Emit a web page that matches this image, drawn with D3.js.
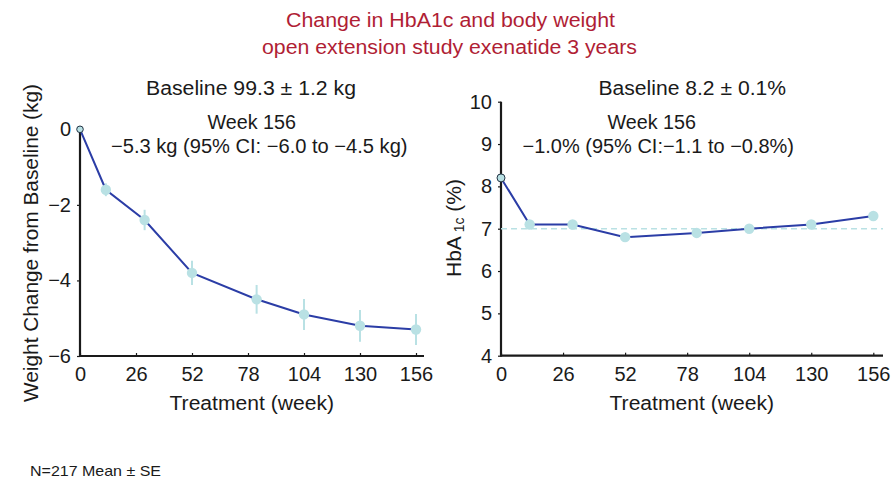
<!DOCTYPE html>
<html><head><meta charset="utf-8">
<script src="https://cdn.jsdelivr.net/npm/d3@7"></script>
<style>
html,body{margin:0;padding:0;background:#fff;}
svg{display:block;font-family:"Liberation Sans",Arial,Helvetica,sans-serif;}
</style></head>
<body><svg id="c" width="894" height="482"></svg>
<script>
// ---- data ----
const weeks = [0, 12, 30, 52, 82, 104, 130, 156];
const weightChange = [0, -1.6, -2.4, -3.8, -4.5, -4.9, -5.2, -5.3];
const weightSE = [0, 0.17, 0.27, 0.32, 0.38, 0.41, 0.42, 0.41];
const hba1c = [8.2, 7.1, 7.1, 6.8, 6.9, 7.0, 7.1, 7.3];
const xTicks = [0, 26, 52, 78, 104, 130, 156];
const weightTicks = [0, -2, -4, -6];
const hbaTicks = [4, 5, 6, 7, 8, 9, 10];
const hbaTarget = 7;
const titleLines = ["Change in HbA1c and body weight", "open extension study exenatide 3 years"];

const lineColor = "#2b3da6", dotColor = "#b9e1e4", titleColor = "#b01e35", ink = "#1a1a1a";
const svg = d3.select("#c");
const fs = 20;

function txt(s, x0, x1, y, opts = {}) {
  const t = svg.append("text").attr("x", (x0 + x1) / 2).attr("y", y)
    .attr("text-anchor", "middle").attr("font-size", opts.size || fs)
    .attr("fill", opts.color || ink).text(s);
  t.attr("textLength", x1 - x0).attr("lengthAdjust", "spacingAndGlyphs");
  return t;
}

// titles
txt(titleLines[0], 286, 615, 26.5, {color: titleColor, size: 19.5});
txt(titleLines[1], 262, 637, 54, {color: titleColor, size: 19.5});

function panel(cfg) {
  const x = d3.scaleLinear().domain([0, 156]).range([cfg.x0, cfg.x1]);
  const y = d3.scaleLinear().domain(cfg.yDomain).range([cfg.yBottom, cfg.yTop]);
  const g = svg.append("g");
  // x axis
  const xa = g.append("g").attr("transform", `translate(0,${cfg.yBottom})`)
    .call(d3.axisBottom(x).tickValues(xTicks).tickSizeInner(-3).tickSizeOuter(0).tickPadding(11));
  xa.select(".domain").remove();
  xa.append("line").attr("x1", cfg.x0).attr("x2", cfg.xEnd).attr("y1", 0).attr("y2", 0)
    .attr("stroke", ink).attr("stroke-width", 2.2);
  xa.selectAll(".tick line").attr("stroke", ink).attr("stroke-width", 1.2);
  xa.selectAll(".tick text").attr("font-size", fs).attr("fill", ink).attr("font-family", null);
  // y axis
  const ya = g.append("g").attr("transform", `translate(${cfg.x0},0)`)
    .call(d3.axisLeft(y).tickValues(cfg.yTicks).tickSizeInner(3).tickSizeOuter(0).tickPadding(6)
      .tickFormat(d => d < 0 ? "\u2212" + Math.abs(d) : String(d)));
  ya.select(".domain").remove();
  ya.append("line").attr("x1", 0).attr("x2", 0).attr("y1", cfg.yTop).attr("y2", cfg.yBottom + 1)
    .attr("stroke", ink).attr("stroke-width", 2.2);
  ya.selectAll(".tick line").attr("stroke", ink).attr("stroke-width", 1.2);
  ya.selectAll(".tick text").attr("font-size", fs).attr("fill", ink).attr("font-family", null);
  return {x, y, g};
}

// ---- left panel ----
const L = panel({x0: 80, x1: 416, xEnd: 424, yDomain: [-6, 0], yBottom: 356, yTop: 129.3, yTicks: weightTicks});
const lData = weeks.map((w, i) => ({w, v: weightChange[i], se: weightSE[i]}));
L.g.selectAll(".eb").data(lData.slice(1)).join("line")
  .attr("x1", d => L.x(d.w)).attr("x2", d => L.x(d.w))
  .attr("y1", d => L.y(d.v - d.se)).attr("y2", d => L.y(d.v + d.se))
  .attr("stroke", dotColor).attr("stroke-width", 2);
L.g.append("path").datum(lData)
  .attr("d", d3.line().x(d => L.x(d.w)).y(d => L.y(d.v)))
  .attr("fill", "none").attr("stroke", lineColor).attr("stroke-width", 2);
L.g.selectAll(".dot").data(lData.slice(1)).join("circle")
  .attr("cx", d => L.x(d.w)).attr("cy", d => L.y(d.v)).attr("r", 5.2).attr("fill", dotColor);
L.g.append("circle").attr("cx", L.x(lData[0].w)).attr("cy", L.y(lData[0].v)).attr("r", 3.3)
  .attr("fill", dotColor).attr("stroke", "#223344").attr("stroke-width", 1);

txt("Baseline 99.3 \u00b1 1.2 kg", 146, 356, 95);
txt("Week 156", 207.5, 296, 129.3);
txt("\u22125.3 kg (95% CI: \u22126.0 to \u22124.5 kg)", 111, 407.5, 153.3);
txt("Treatment (week)", 169.5, 334, 410);
svg.append("text").attr("transform", "translate(38,243) rotate(-90)")
  .attr("text-anchor", "middle").attr("font-size", 21).attr("fill", ink)
  .attr("textLength", 318).attr("lengthAdjust", "spacingAndGlyphs")
  .text("Weight Change from Baseline (kg)");

// ---- right panel ----
const R = panel({x0: 501, x1: 873.3, xEnd: 883, yDomain: [4, 10], yBottom: 355.7, yTop: 101.7, yTicks: hbaTicks});
R.g.append("line").attr("x1", 501).attr("x2", 883).attr("y1", R.y(hbaTarget)).attr("y2", R.y(hbaTarget))
  .attr("stroke", dotColor).attr("stroke-width", 1.6).attr("stroke-dasharray", "6,4");
const rData = weeks.map((w, i) => ({w, v: hba1c[i]}));
R.g.append("path").datum(rData)
  .attr("d", d3.line().x(d => R.x(d.w)).y(d => R.y(d.v)))
  .attr("fill", "none").attr("stroke", lineColor).attr("stroke-width", 2);
R.g.selectAll(".dot").data(rData.slice(1)).join("circle")
  .attr("cx", d => R.x(d.w)).attr("cy", d => R.y(d.v)).attr("r", 5.2).attr("fill", dotColor);
R.g.append("circle").attr("cx", R.x(rData[0].w)).attr("cy", R.y(rData[0].v)).attr("r", 4)
  .attr("fill", dotColor).attr("stroke", "#223344").attr("stroke-width", 1);

txt("Baseline 8.2 \u00b1 0.1%", 598.5, 786, 95);
txt("Week 156", 607.5, 696, 129.3);
txt("\u22121.0% (95% CI:\u22121.1 to \u22120.8%)", 522.5, 794, 153.3);
txt("Treatment (week)", 609.5, 774, 410);
const yl = svg.append("text").attr("transform", "translate(461,228) rotate(-90)")
  .attr("text-anchor", "middle").attr("font-size", 21).attr("fill", ink);
yl.append("tspan").text("HbA");
yl.append("tspan").attr("font-size", 14).attr("dy", 3).text(" 1c");
yl.append("tspan").attr("dy", -3).text(" (%)");

// footnote
svg.append("text").attr("x", 30).attr("y", 476).attr("font-size", 15).attr("fill", ink)
  .attr("textLength", 131).attr("lengthAdjust", "spacingAndGlyphs")
  .text("N=217 Mean \u00b1 SE");
</script></body></html>
